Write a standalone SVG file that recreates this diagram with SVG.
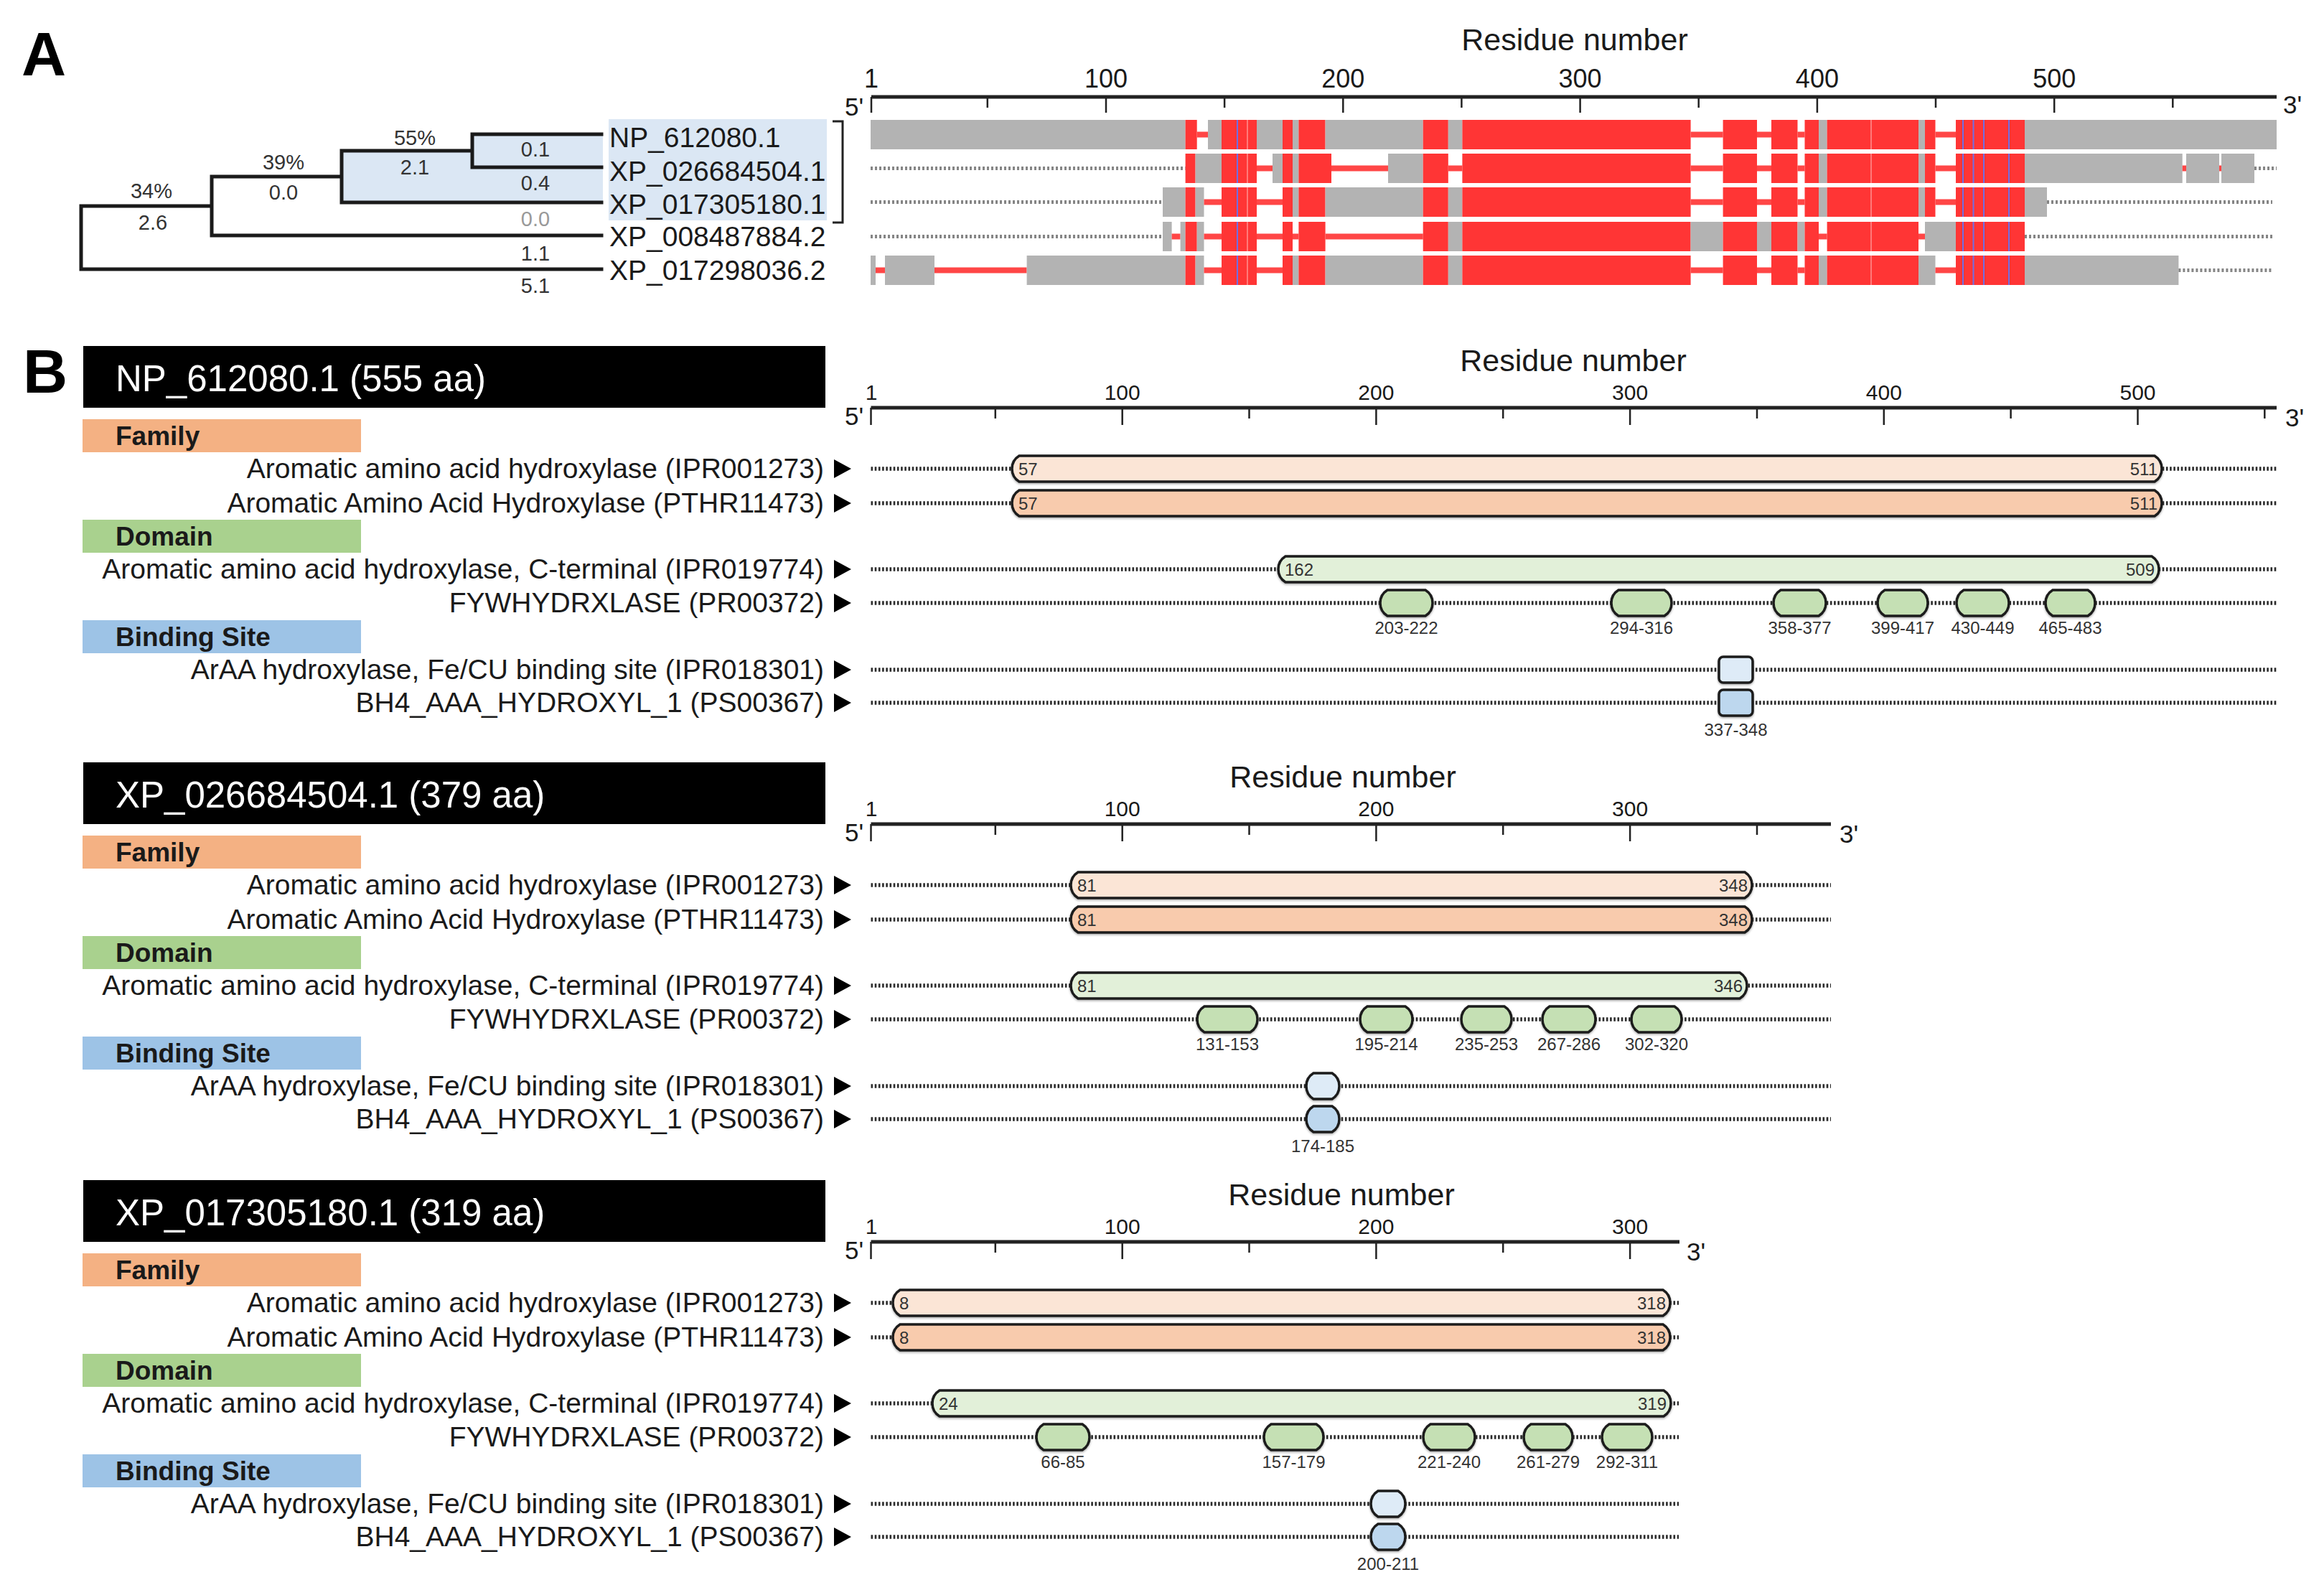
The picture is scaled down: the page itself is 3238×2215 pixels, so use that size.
<svg xmlns="http://www.w3.org/2000/svg" xmlns:xlink="http://www.w3.org/1999/xlink" width="3238" height="2215" viewBox="0 0 3238 2215">
<style>
text{font-family:"Liberation Sans",Arial,sans-serif;fill:#1a1a1a}
.lab{font-size:39px;text-anchor:end}
.cat{font-size:37px;font-weight:bold}
.hdr{font-size:51px;fill:#fff}
.rn{font-size:43px;text-anchor:middle}
.tk{font-size:30px;text-anchor:middle}
.tkA{font-size:36px;text-anchor:middle}
.pr{font-size:35px}
.num{font-size:24px;fill:#333}
.e{text-anchor:end}
.ml{font-size:24px;text-anchor:middle;fill:#333}
.leaf{font-size:39px}
.bl{font-size:29px;text-anchor:middle;fill:#333}
.big{font-size:86px;font-weight:bold;fill:#000}
.dot{stroke:#2a2a2a;stroke-width:5.5;stroke-dasharray:2.6 2.6;fill:none}
.dA{stroke:#858585;stroke-width:5;stroke-dasharray:3 3;fill:none}
.ax{stroke:#222;stroke-width:5;fill:none}
.tick{stroke:#222;stroke-width:2.5;fill:none}
.sh{stroke:#1a1a1a;stroke-width:3.5;filter:url(#ds)}
.g{fill:#b3b3b3}.r{fill:#ff3535}.l{fill:#ff4646}
.f1{fill:#fbe5d6}.f2{fill:#f8cbad}.d1{fill:#e2f0d9}.d2{fill:#c5e0b4}.b1{fill:#deebf7}.b2{fill:#bdd7ee}
.tree{stroke:#1a1a1a;stroke-width:5;fill:none;stroke-linecap:square}
.blu{stroke:#6e6ee6;stroke-width:2}
.pk{stroke:#ff9090;stroke-width:1.5}
</style>
<defs>
<filter id="ds" x="-5%" y="-30%" width="110%" height="160%">
<feDropShadow dx="0" dy="1.5" stdDeviation="1.8" flood-color="#000" flood-opacity="0.35"/>
</filter>
<path id="tri" d="M0,-13 L24,0 L0,13Z" fill="#000"/>
<g id="bluelines">
<line class="pk" x1="1738" y1="0" x2="1738" y2="41"/>
<line class="pk" x1="2607" y1="0" x2="2607" y2="41"/>
<line class="blu" x1="1724" y1="0" x2="1724" y2="41"/>
<line class="blu" x1="2735" y1="0" x2="2735" y2="41"/>
<line class="blu" x1="2749.5" y1="0" x2="2749.5" y2="41"/>
<line class="blu" x1="2764" y1="0" x2="2764" y2="41"/>
<line class="blu" x1="2799" y1="0" x2="2799" y2="41"/>
</g>
</defs>
<rect width="3238" height="2215" fill="#fff"/>

<!-- ============ PANEL A ============ -->
<text class="big" x="30" y="105">A</text>

<g id="tree-highlight">
<polygon points="658,187 840,187 840,282 476,282 476,209 658,209" fill="#dbe7f4"/>
<rect x="848" y="166" width="304" height="141" fill="#dbe7f4"/>
</g>

<g id="connectors">
<path class="tree" d="M658,187 H838 M658,233 H838 M658,187 V233 M476,210 H658 M476,282 H838 M476,210 V282 M295,246 H476 M295,328 H838 M295,246 V328 M113,287 H295 M113,375 H838 M113,287 V375"/>
<path d="M1160,169 H1174 V310 H1160" stroke="#222" stroke-width="3" fill="none"/>
</g>

<g id="tree-labels">
<text class="bl" x="578" y="202">55%</text>
<text class="bl" x="578" y="243">2.1</text>
<text class="bl" x="746" y="218">0.1</text>
<text class="bl" x="746" y="265">0.4</text>
<text class="bl" x="395" y="236">39%</text>
<text class="bl" x="395" y="278">0.0</text>
<text class="bl" x="211" y="276">34%</text>
<text class="bl" x="213" y="320">2.6</text>
<text class="bl" x="746" y="315" style="fill:#999">0.0</text>
<text class="bl" x="746" y="363">1.1</text>
<text class="bl" x="746" y="408">5.1</text>
</g>

<g id="leaf-NP_612080.1"><text class="leaf" x="849" y="205">NP_612080.1</text></g>
<g id="leaf-XP_026684504.1"><text class="leaf" x="849" y="252">XP_026684504.1</text></g>
<g id="leaf-XP_017305180.1"><text class="leaf" x="849" y="298">XP_017305180.1</text></g>
<g id="leaf-XP_008487884.2"><text class="leaf" x="849" y="343">XP_008487884.2</text></g>
<g id="leaf-XP_017298036.2"><text class="leaf" x="849" y="390">XP_017298036.2</text></g>

<g id="axisA">
<text class="rn" x="2194" y="70">Residue number</text>
<text class="tkA" x="1214" y="122">1</text>
<text class="tkA" x="1541" y="122">100</text>
<text class="tkA" x="1871.3" y="122">200</text>
<text class="tkA" x="2201.6" y="122">300</text>
<text class="tkA" x="2531.9" y="122">400</text>
<text class="tkA" x="2862.2" y="122">500</text>
<line class="ax" x1="1214" y1="135" x2="3172" y2="135"/>
<path class="tick" d="M1214,135 V157 M1541,135 V157 M1871.3,135 V157 M2201.6,135 V157 M2531.9,135 V157 M2862.2,135 V157 M1375.8,135 V150 M1706.1,135 V150 M2036.4,135 V150 M2366.7,135 V150 M2697,135 V150 M3027.3,135 V150"/>
<text class="pr" x="1177" y="161">5'</text>
<text class="pr" x="3181" y="158">3'</text>
</g>

<g id="aln-row1" transform="translate(0,167)">
<rect class="g" x="1213" y="0" width="438.6" height="41"/>
<rect class="r" x="1651.6" y="0" width="16.1" height="41"/>
<rect class="l" x="1667.7" y="16.5" width="15.3" height="8"/>
<rect class="g" x="1683" y="0" width="19" height="41"/>
<rect class="r" x="1702" y="0" width="49" height="41"/>
<rect class="g" x="1751" y="0" width="36" height="41"/>
<rect class="r" x="1787" y="0" width="14" height="41"/>
<rect class="g" x="1801" y="0" width="8.4" height="41"/>
<rect class="r" x="1809.4" y="0" width="37.2" height="41"/>
<rect class="g" x="1846.6" y="0" width="136.1" height="41"/>
<rect class="r" x="1982.7" y="0" width="35.1" height="41"/>
<rect class="g" x="2017.8" y="0" width="19.6" height="41"/>
<rect class="r" x="2037.4" y="0" width="318.2" height="41"/>
<rect class="l" x="2355.6" y="16.5" width="45" height="8"/>
<rect class="r" x="2400.6" y="0" width="47.4" height="41"/>
<rect class="l" x="2448" y="16.5" width="20" height="8"/>
<rect class="r" x="2468" y="0" width="36.5" height="41"/>
<rect class="l" x="2504.5" y="16.5" width="10" height="8"/>
<rect class="r" x="2514.5" y="0" width="19.5" height="41"/>
<rect class="g" x="2534" y="0" width="11.6" height="41"/>
<rect class="r" x="2545.6" y="0" width="127.4" height="41"/>
<rect class="g" x="2673" y="0" width="9" height="41"/>
<rect class="r" x="2682" y="0" width="14.5" height="41"/>
<rect class="l" x="2696.5" y="16.5" width="28.5" height="8"/>
<rect class="r" x="2725" y="0" width="96" height="41"/>
<rect class="g" x="2821" y="0" width="351" height="41"/>
<use href="#bluelines"/>
</g>

<g id="aln-row2" transform="translate(0,214)">
<line class="dA" x1="1213" y1="20.5" x2="1651.6" y2="20.5"/>
<rect class="r" x="1651.6" y="0" width="14" height="41"/>
<rect class="g" x="1665.6" y="0" width="36.4" height="41"/>
<rect class="r" x="1702" y="0" width="49" height="41"/>
<rect class="l" x="1751" y="16.5" width="22" height="8"/>
<rect class="g" x="1773" y="0" width="14" height="41"/>
<rect class="r" x="1787" y="0" width="14" height="41"/>
<rect class="g" x="1801" y="0" width="8.4" height="41"/>
<rect class="r" x="1809.4" y="0" width="45.6" height="41"/>
<rect class="l" x="1855" y="16.5" width="79" height="8"/>
<rect class="g" x="1934" y="0" width="48.7" height="41"/>
<rect class="r" x="1982.7" y="0" width="35.1" height="41"/>
<rect class="l" x="2017.8" y="16.5" width="19.6" height="8"/>
<rect class="r" x="2037.4" y="0" width="318.2" height="41"/>
<rect class="l" x="2355.6" y="16.5" width="45" height="8"/>
<rect class="r" x="2400.6" y="0" width="47.4" height="41"/>
<rect class="l" x="2448" y="16.5" width="20" height="8"/>
<rect class="r" x="2468" y="0" width="36.5" height="41"/>
<rect class="l" x="2504.5" y="16.5" width="10" height="8"/>
<rect class="r" x="2514.5" y="0" width="19.5" height="41"/>
<rect class="g" x="2534" y="0" width="11.6" height="41"/>
<rect class="r" x="2545.6" y="0" width="127.4" height="41"/>
<rect class="g" x="2673" y="0" width="9" height="41"/>
<rect class="r" x="2682" y="0" width="14.5" height="41"/>
<rect class="l" x="2696.5" y="16.5" width="28.5" height="8"/>
<rect class="r" x="2725" y="0" width="96" height="41"/>
<rect class="g" x="2821" y="0" width="219.7" height="41"/>
<rect class="l" x="3040.7" y="16.5" width="5.3" height="8"/>
<rect class="g" x="3046" y="0" width="46" height="41"/>
<rect class="l" x="3092" y="16.5" width="3" height="8"/>
<rect class="g" x="3095" y="0" width="46" height="41"/>
<line class="dA" x1="3141" y1="20.5" x2="3172" y2="20.5"/>
<use href="#bluelines"/>
</g>

<g id="aln-row3" transform="translate(0,261)">
<line class="dA" x1="1213" y1="20.5" x2="1620" y2="20.5"/>
<rect class="g" x="1620" y="0" width="31.6" height="41"/>
<rect class="r" x="1651.6" y="0" width="14" height="41"/>
<rect class="g" x="1665.6" y="0" width="11.9" height="41"/>
<rect class="l" x="1677.5" y="16.5" width="24.5" height="8"/>
<rect class="r" x="1702" y="0" width="49" height="41"/>
<rect class="l" x="1751" y="16.5" width="36" height="8"/>
<rect class="r" x="1787" y="0" width="14" height="41"/>
<rect class="g" x="1801" y="0" width="8.4" height="41"/>
<rect class="r" x="1809.4" y="0" width="37.2" height="41"/>
<rect class="g" x="1846.6" y="0" width="136.1" height="41"/>
<rect class="r" x="1982.7" y="0" width="35.1" height="41"/>
<rect class="g" x="2017.8" y="0" width="19.6" height="41"/>
<rect class="r" x="2037.4" y="0" width="318.2" height="41"/>
<rect class="l" x="2355.6" y="16.5" width="45" height="8"/>
<rect class="r" x="2400.6" y="0" width="47.4" height="41"/>
<rect class="l" x="2448" y="16.5" width="20" height="8"/>
<rect class="r" x="2468" y="0" width="36.5" height="41"/>
<rect class="l" x="2504.5" y="16.5" width="10" height="8"/>
<rect class="r" x="2514.5" y="0" width="19.5" height="41"/>
<rect class="g" x="2534" y="0" width="11.6" height="41"/>
<rect class="r" x="2545.6" y="0" width="127.4" height="41"/>
<rect class="g" x="2673" y="0" width="9" height="41"/>
<rect class="r" x="2682" y="0" width="14.5" height="41"/>
<rect class="l" x="2696.5" y="16.5" width="28.5" height="8"/>
<rect class="r" x="2725" y="0" width="96" height="41"/>
<rect class="g" x="2821" y="0" width="31" height="41"/>
<line class="dA" x1="2852" y1="20.5" x2="3166" y2="20.5"/>
<use href="#bluelines"/>
</g>

<g id="aln-row4" transform="translate(0,309)">
<line class="dA" x1="1213" y1="20.5" x2="1620" y2="20.5"/>
<rect class="g" x="1620" y="0" width="12.6" height="41"/>
<rect class="l" x="1632.6" y="16.5" width="12" height="8"/>
<rect class="g" x="1644.6" y="0" width="7" height="41"/>
<rect class="r" x="1651.6" y="0" width="16.1" height="41"/>
<rect class="g" x="1667.7" y="0" width="9.8" height="41"/>
<rect class="l" x="1677.5" y="16.5" width="24.5" height="8"/>
<rect class="r" x="1702" y="0" width="49" height="41"/>
<rect class="l" x="1751" y="16.5" width="36" height="8"/>
<rect class="r" x="1787" y="0" width="14" height="41"/>
<rect class="l" x="1801" y="16.5" width="8.4" height="8"/>
<rect class="r" x="1809.4" y="0" width="37.2" height="41"/>
<rect class="l" x="1846.6" y="16.5" width="136.1" height="8"/>
<rect class="r" x="1982.7" y="0" width="35.1" height="41"/>
<rect class="g" x="2017.8" y="0" width="19.6" height="41"/>
<rect class="r" x="2037.4" y="0" width="318.2" height="41"/>
<rect class="g" x="2355.6" y="0" width="45" height="41"/>
<rect class="r" x="2400.6" y="0" width="47.4" height="41"/>
<rect class="g" x="2448" y="0" width="20" height="41"/>
<rect class="r" x="2468" y="0" width="36.5" height="41"/>
<rect class="g" x="2504.5" y="0" width="10" height="41"/>
<rect class="r" x="2514.5" y="0" width="19.5" height="41"/>
<rect class="l" x="2534" y="16.5" width="11.6" height="8"/>
<rect class="r" x="2545.6" y="0" width="127.4" height="41"/>
<rect class="l" x="2673" y="16.5" width="9" height="8"/>
<rect class="g" x="2682" y="0" width="43" height="41"/>
<rect class="r" x="2725" y="0" width="96" height="41"/>
<line class="dA" x1="2821" y1="20.5" x2="3166" y2="20.5"/>
<use href="#bluelines"/>
</g>

<g id="aln-row5" transform="translate(0,356)">
<rect class="g" x="1213" y="0" width="7" height="41"/>
<rect class="l" x="1220" y="16.5" width="13" height="8"/>
<rect class="g" x="1233" y="0" width="69" height="41"/>
<rect class="l" x="1302" y="16.5" width="128.6" height="8"/>
<rect class="g" x="1430.6" y="0" width="221" height="41"/>
<rect class="r" x="1651.6" y="0" width="14" height="41"/>
<rect class="g" x="1665.6" y="0" width="11.9" height="41"/>
<rect class="l" x="1677.5" y="16.5" width="24.5" height="8"/>
<rect class="r" x="1702" y="0" width="49" height="41"/>
<rect class="l" x="1751" y="16.5" width="36" height="8"/>
<rect class="r" x="1787" y="0" width="14" height="41"/>
<rect class="g" x="1801" y="0" width="8.4" height="41"/>
<rect class="r" x="1809.4" y="0" width="37.2" height="41"/>
<rect class="g" x="1846.6" y="0" width="136.1" height="41"/>
<rect class="r" x="1982.7" y="0" width="35.1" height="41"/>
<rect class="g" x="2017.8" y="0" width="19.6" height="41"/>
<rect class="r" x="2037.4" y="0" width="318.2" height="41"/>
<rect class="l" x="2355.6" y="16.5" width="45" height="8"/>
<rect class="r" x="2400.6" y="0" width="47.4" height="41"/>
<rect class="l" x="2448" y="16.5" width="20" height="8"/>
<rect class="r" x="2468" y="0" width="36.5" height="41"/>
<rect class="l" x="2504.5" y="16.5" width="10" height="8"/>
<rect class="r" x="2514.5" y="0" width="19.5" height="41"/>
<rect class="g" x="2534" y="0" width="11.6" height="41"/>
<rect class="r" x="2545.6" y="0" width="127.4" height="41"/>
<rect class="g" x="2673" y="0" width="23.5" height="41"/>
<rect class="l" x="2696.5" y="16.5" width="28.5" height="8"/>
<rect class="r" x="2725" y="0" width="96" height="41"/>
<rect class="g" x="2821" y="0" width="214.4" height="41"/>
<line class="dA" x1="3035.4" y1="20.5" x2="3166" y2="20.5"/>
<use href="#bluelines"/>
</g>

<!-- ============ PANEL B ============ -->
<text class="big" x="32" y="547">B</text>

<!-- Section 1 -->
<g id="sec1">
<g id="sec1-header"><rect x="116" y="482" width="1034" height="86" fill="#000"/><text class="hdr" x="161" y="545">NP_612080.1 (555 aa)</text></g>
<g id="sec1-cat-family"><rect x="115" y="584" width="388" height="46" fill="#f4b183"/><text class="cat" x="161" y="620">Family</text></g>
<g id="sec1-cat-domain"><rect x="115" y="724" width="388" height="46" fill="#a9d18e"/><text class="cat" x="161" y="760">Domain</text></g>
<g id="sec1-cat-binding"><rect x="115" y="864" width="388" height="46" fill="#9dc3e6"/><text class="cat" x="161" y="900">Binding Site</text></g>
<g id="sec1-labels">
<text class="lab" x="1148" y="666">Aromatic amino acid hydroxylase (IPR001273)</text>
<text class="lab" x="1148" y="714">Aromatic Amino Acid Hydroxylase (PTHR11473)</text>
<text class="lab" x="1148" y="806">Aromatic amino acid hydroxylase, C-terminal (IPR019774)</text>
<text class="lab" x="1148" y="853">FYWHYDRXLASE (PR00372)</text>
<text class="lab" x="1148" y="946">ArAA hydroxylase, Fe/CU binding site (IPR018301)</text>
<text class="lab" x="1148" y="992">BH4_AAA_HYDROXYL_1 (PS00367)</text>
<use href="#tri" x="1162" y="653"/><use href="#tri" x="1162" y="701"/><use href="#tri" x="1162" y="793"/><use href="#tri" x="1162" y="840"/><use href="#tri" x="1162" y="933"/><use href="#tri" x="1162" y="979"/>
</g>
<g id="sec1-axis">
<text class="rn" x="2192" y="517">Residue number</text>
<text class="tk" x="1214" y="557">1</text>
<text class="tk" x="1563.7" y="557">100</text>
<text class="tk" x="1917.4" y="557">200</text>
<text class="tk" x="2271.1" y="557">300</text>
<text class="tk" x="2624.8" y="557">400</text>
<text class="tk" x="2978.5" y="557">500</text>
<line class="ax" x1="1213.5" y1="568" x2="3172" y2="568"/>
<path class="tick" d="M1213.5,568 V592 M1563.7,568 V592 M1917.4,568 V592 M2271.1,568 V592 M2624.8,568 V592 M2978.5,568 V592 M1386.8,568 V583 M1740.5,568 V583 M2094.2,568 V583 M2448,568 V583 M2801.6,568 V583 M3155.3,568 V583"/>
<text class="pr" x="1177" y="592">5'</text>
<text class="pr" x="3184" y="594">3'</text>
</g>
<g id="sec1-tracks">
<path class="dot" d="M1213.5,653 H3172 M1213.5,701 H3172 M1213.5,793 H3172 M1213.5,840 H3172 M1213.5,933 H3172 M1213.5,979 H3172"/>
<path class="f1 sh" d="M1420,635 H3002 A21.2,21.2 0 0 1 3002,671 H1420 A21.2,21.2 0 0 1 1420,635 Z"/>
<text class="num" x="1419" y="662">57</text><text class="num e" x="3006" y="662">511</text>
<path class="f2 sh" d="M1420,683 H3002 A21.2,21.2 0 0 1 3002,719 H1420 A21.2,21.2 0 0 1 1420,683 Z"/>
<text class="num" x="1419" y="710">57</text><text class="num e" x="3006" y="710">511</text>
<path class="d1 sh" d="M1791,775 H2998 A21.2,21.2 0 0 1 2998,811 H1791 A21.2,21.2 0 0 1 1791,775 Z"/>
<text class="num" x="1790" y="802">162</text><text class="num e" x="3002" y="802">509</text>
<path class="d2 sh" d="M1933,822 H1986 A21.2,21.2 0 0 1 1986,858 H1933 A21.2,21.2 0 0 1 1933,822 Z"/>
<path class="d2 sh" d="M2255,822 H2319 A21.2,21.2 0 0 1 2319,858 H2255 A21.2,21.2 0 0 1 2255,822 Z"/>
<path class="d2 sh" d="M2481,822 H2534 A21.2,21.2 0 0 1 2534,858 H2481 A21.2,21.2 0 0 1 2481,822 Z"/>
<path class="d2 sh" d="M2626,822 H2676 A21.2,21.2 0 0 1 2676,858 H2626 A21.2,21.2 0 0 1 2626,822 Z"/>
<path class="d2 sh" d="M2736,822 H2789 A21.2,21.2 0 0 1 2789,858 H2736 A21.2,21.2 0 0 1 2736,822 Z"/>
<path class="d2 sh" d="M2860,822 H2909 A21.2,21.2 0 0 1 2909,858 H2860 A21.2,21.2 0 0 1 2860,822 Z"/>
<text class="ml" x="1959.5" y="883">203-222</text>
<text class="ml" x="2287" y="883">294-316</text>
<text class="ml" x="2507.5" y="883">358-377</text>
<text class="ml" x="2651" y="883">399-417</text>
<text class="ml" x="2762.5" y="883">430-449</text>
<text class="ml" x="2884.5" y="883">465-483</text>
<rect class="b1 sh" x="2395" y="915" width="47" height="36" rx="6"/>
<rect class="b2 sh" x="2395" y="961" width="47" height="36" rx="6"/>
<text class="ml" x="2418.5" y="1025">337-348</text>
</g>
</g>

<!-- Section 2 -->
<g id="sec2" transform="translate(0,580)">
<g id="sec2-header"><rect x="116" y="482" width="1034" height="86" fill="#000"/><text class="hdr" x="161" y="545">XP_026684504.1 (379 aa)</text></g>
<g id="sec2-cat-family"><rect x="115" y="584" width="388" height="46" fill="#f4b183"/><text class="cat" x="161" y="620">Family</text></g>
<g id="sec2-cat-domain"><rect x="115" y="724" width="388" height="46" fill="#a9d18e"/><text class="cat" x="161" y="760">Domain</text></g>
<g id="sec2-cat-binding"><rect x="115" y="864" width="388" height="46" fill="#9dc3e6"/><text class="cat" x="161" y="900">Binding Site</text></g>
<g id="sec2-labels">
<text class="lab" x="1148" y="666">Aromatic amino acid hydroxylase (IPR001273)</text>
<text class="lab" x="1148" y="714">Aromatic Amino Acid Hydroxylase (PTHR11473)</text>
<text class="lab" x="1148" y="806">Aromatic amino acid hydroxylase, C-terminal (IPR019774)</text>
<text class="lab" x="1148" y="853">FYWHYDRXLASE (PR00372)</text>
<text class="lab" x="1148" y="946">ArAA hydroxylase, Fe/CU binding site (IPR018301)</text>
<text class="lab" x="1148" y="992">BH4_AAA_HYDROXYL_1 (PS00367)</text>
<use href="#tri" x="1162" y="653"/><use href="#tri" x="1162" y="701"/><use href="#tri" x="1162" y="793"/><use href="#tri" x="1162" y="840"/><use href="#tri" x="1162" y="933"/><use href="#tri" x="1162" y="979"/>
</g>
<g id="sec2-axis">
<text class="rn" x="1871" y="517">Residue number</text>
<text class="tk" x="1214" y="557">1</text>
<text class="tk" x="1563.7" y="557">100</text>
<text class="tk" x="1917.4" y="557">200</text>
<text class="tk" x="2271.1" y="557">300</text>
<line class="ax" x1="1213.5" y1="568" x2="2551" y2="568"/>
<path class="tick" d="M1213.5,568 V592 M1563.7,568 V592 M1917.4,568 V592 M2271.1,568 V592 M1386.8,568 V583 M1740.5,568 V583 M2094.2,568 V583 M2448,568 V583"/>
<text class="pr" x="1177" y="592">5'</text>
<text class="pr" x="2563" y="594">3'</text>
</g>
<g id="sec2-tracks">
<path class="dot" d="M1213.5,653 H2551 M1213.5,701 H2551 M1213.5,793 H2551 M1213.5,840 H2551 M1213.5,933 H2551 M1213.5,979 H2551"/>
<path class="f1 sh" d="M1502,635 H2431 A21.2,21.2 0 0 1 2431,671 H1502 A21.2,21.2 0 0 1 1502,635 Z"/>
<text class="num" x="1501" y="662">81</text><text class="num e" x="2435" y="662">348</text>
<path class="f2 sh" d="M1502,683 H2431 A21.2,21.2 0 0 1 2431,719 H1502 A21.2,21.2 0 0 1 1502,683 Z"/>
<text class="num" x="1501" y="710">81</text><text class="num e" x="2435" y="710">348</text>
<path class="d1 sh" d="M1502,775 H2424 A21.2,21.2 0 0 1 2424,811 H1502 A21.2,21.2 0 0 1 1502,775 Z"/>
<text class="num" x="1501" y="802">81</text><text class="num e" x="2428" y="802">346</text>
<path class="d2 sh" d="M1678,822 H1742 A21.2,21.2 0 0 1 1742,858 H1678 A21.2,21.2 0 0 1 1678,822 Z"/>
<path class="d2 sh" d="M1905,822 H1958 A21.2,21.2 0 0 1 1958,858 H1905 A21.2,21.2 0 0 1 1905,822 Z"/>
<path class="d2 sh" d="M2046,822 H2096 A21.2,21.2 0 0 1 2096,858 H2046 A21.2,21.2 0 0 1 2046,822 Z"/>
<path class="d2 sh" d="M2159,822 H2213 A21.2,21.2 0 0 1 2213,858 H2159 A21.2,21.2 0 0 1 2159,822 Z"/>
<path class="d2 sh" d="M2283,822 H2333 A21.2,21.2 0 0 1 2333,858 H2283 A21.2,21.2 0 0 1 2283,822 Z"/>
<text class="ml" x="1710" y="883">131-153</text>
<text class="ml" x="1931.5" y="883">195-214</text>
<text class="ml" x="2071" y="883">235-253</text>
<text class="ml" x="2186" y="883">267-286</text>
<text class="ml" x="2308" y="883">302-320</text>
<path class="b1 sh" d="M1830,915 H1856 A21.2,21.2 0 0 1 1856,951 H1830 A21.2,21.2 0 0 1 1830,915 Z"/>
<path class="b2 sh" d="M1830,961 H1856 A21.2,21.2 0 0 1 1856,997 H1830 A21.2,21.2 0 0 1 1830,961 Z"/>
<text class="ml" x="1843" y="1025">174-185</text>
</g>
</g>

<!-- Section 3 -->
<g id="sec3" transform="translate(0,1162)">
<g id="sec3-header"><rect x="116" y="482" width="1034" height="86" fill="#000"/><text class="hdr" x="161" y="545">XP_017305180.1 (319 aa)</text></g>
<g id="sec3-cat-family"><rect x="115" y="584" width="388" height="46" fill="#f4b183"/><text class="cat" x="161" y="620">Family</text></g>
<g id="sec3-cat-domain"><rect x="115" y="724" width="388" height="46" fill="#a9d18e"/><text class="cat" x="161" y="760">Domain</text></g>
<g id="sec3-cat-binding"><rect x="115" y="864" width="388" height="46" fill="#9dc3e6"/><text class="cat" x="161" y="900">Binding Site</text></g>
<g id="sec3-labels">
<text class="lab" x="1148" y="666">Aromatic amino acid hydroxylase (IPR001273)</text>
<text class="lab" x="1148" y="714">Aromatic Amino Acid Hydroxylase (PTHR11473)</text>
<text class="lab" x="1148" y="806">Aromatic amino acid hydroxylase, C-terminal (IPR019774)</text>
<text class="lab" x="1148" y="853">FYWHYDRXLASE (PR00372)</text>
<text class="lab" x="1148" y="946">ArAA hydroxylase, Fe/CU binding site (IPR018301)</text>
<text class="lab" x="1148" y="992">BH4_AAA_HYDROXYL_1 (PS00367)</text>
<use href="#tri" x="1162" y="653"/><use href="#tri" x="1162" y="701"/><use href="#tri" x="1162" y="793"/><use href="#tri" x="1162" y="840"/><use href="#tri" x="1162" y="933"/><use href="#tri" x="1162" y="979"/>
</g>
<g id="sec3-axis">
<text class="rn" x="1869" y="517">Residue number</text>
<text class="tk" x="1214" y="557">1</text>
<text class="tk" x="1563.7" y="557">100</text>
<text class="tk" x="1917.4" y="557">200</text>
<text class="tk" x="2271.1" y="557">300</text>
<line class="ax" x1="1213.5" y1="568" x2="2340" y2="568"/>
<path class="tick" d="M1213.5,568 V592 M1563.7,568 V592 M1917.4,568 V592 M2271.1,568 V592 M1386.8,568 V583 M1740.5,568 V583 M2094.2,568 V583"/>
<text class="pr" x="1177" y="592">5'</text>
<text class="pr" x="2350" y="594">3'</text>
</g>
<g id="sec3-tracks">
<path class="dot" d="M1213.5,653 H2339 M1213.5,701 H2339 M1213.5,793 H2339 M1213.5,840 H2339 M1213.5,933 H2339 M1213.5,979 H2339"/>
<path class="f1 sh" d="M1254,635 H2317 A21.2,21.2 0 0 1 2317,671 H1254 A21.2,21.2 0 0 1 1254,635 Z"/>
<text class="num" x="1253" y="662">8</text><text class="num e" x="2321" y="662">318</text>
<path class="f2 sh" d="M1254,683 H2317 A21.2,21.2 0 0 1 2317,719 H1254 A21.2,21.2 0 0 1 1254,683 Z"/>
<text class="num" x="1253" y="710">8</text><text class="num e" x="2321" y="710">318</text>
<path class="d1 sh" d="M1309,775 H2318 A21.2,21.2 0 0 1 2318,811 H1309 A21.2,21.2 0 0 1 1309,775 Z"/>
<text class="num" x="1308" y="802">24</text><text class="num e" x="2322" y="802">319</text>
<path class="d2 sh" d="M1454,822 H1508 A21.2,21.2 0 0 1 1508,858 H1454 A21.2,21.2 0 0 1 1454,822 Z"/>
<path class="d2 sh" d="M1771,822 H1834 A21.2,21.2 0 0 1 1834,858 H1771 A21.2,21.2 0 0 1 1771,822 Z"/>
<path class="d2 sh" d="M1993,822 H2045 A21.2,21.2 0 0 1 2045,858 H1993 A21.2,21.2 0 0 1 1993,822 Z"/>
<path class="d2 sh" d="M2133,822 H2181 A21.2,21.2 0 0 1 2181,858 H2133 A21.2,21.2 0 0 1 2133,822 Z"/>
<path class="d2 sh" d="M2242,822 H2292 A21.2,21.2 0 0 1 2292,858 H2242 A21.2,21.2 0 0 1 2242,822 Z"/>
<text class="ml" x="1481" y="883">66-85</text>
<text class="ml" x="1802.5" y="883">157-179</text>
<text class="ml" x="2019" y="883">221-240</text>
<text class="ml" x="2157" y="883">261-279</text>
<text class="ml" x="2267" y="883">292-311</text>
<path class="b1 sh" d="M1920,915 H1948 A21.2,21.2 0 0 1 1948,951 H1920 A21.2,21.2 0 0 1 1920,915 Z"/>
<path class="b2 sh" d="M1920,961 H1948 A21.2,21.2 0 0 1 1948,997 H1920 A21.2,21.2 0 0 1 1920,961 Z"/>
<text class="ml" x="1934" y="1025">200-211</text>
</g>
</g>
</svg>
